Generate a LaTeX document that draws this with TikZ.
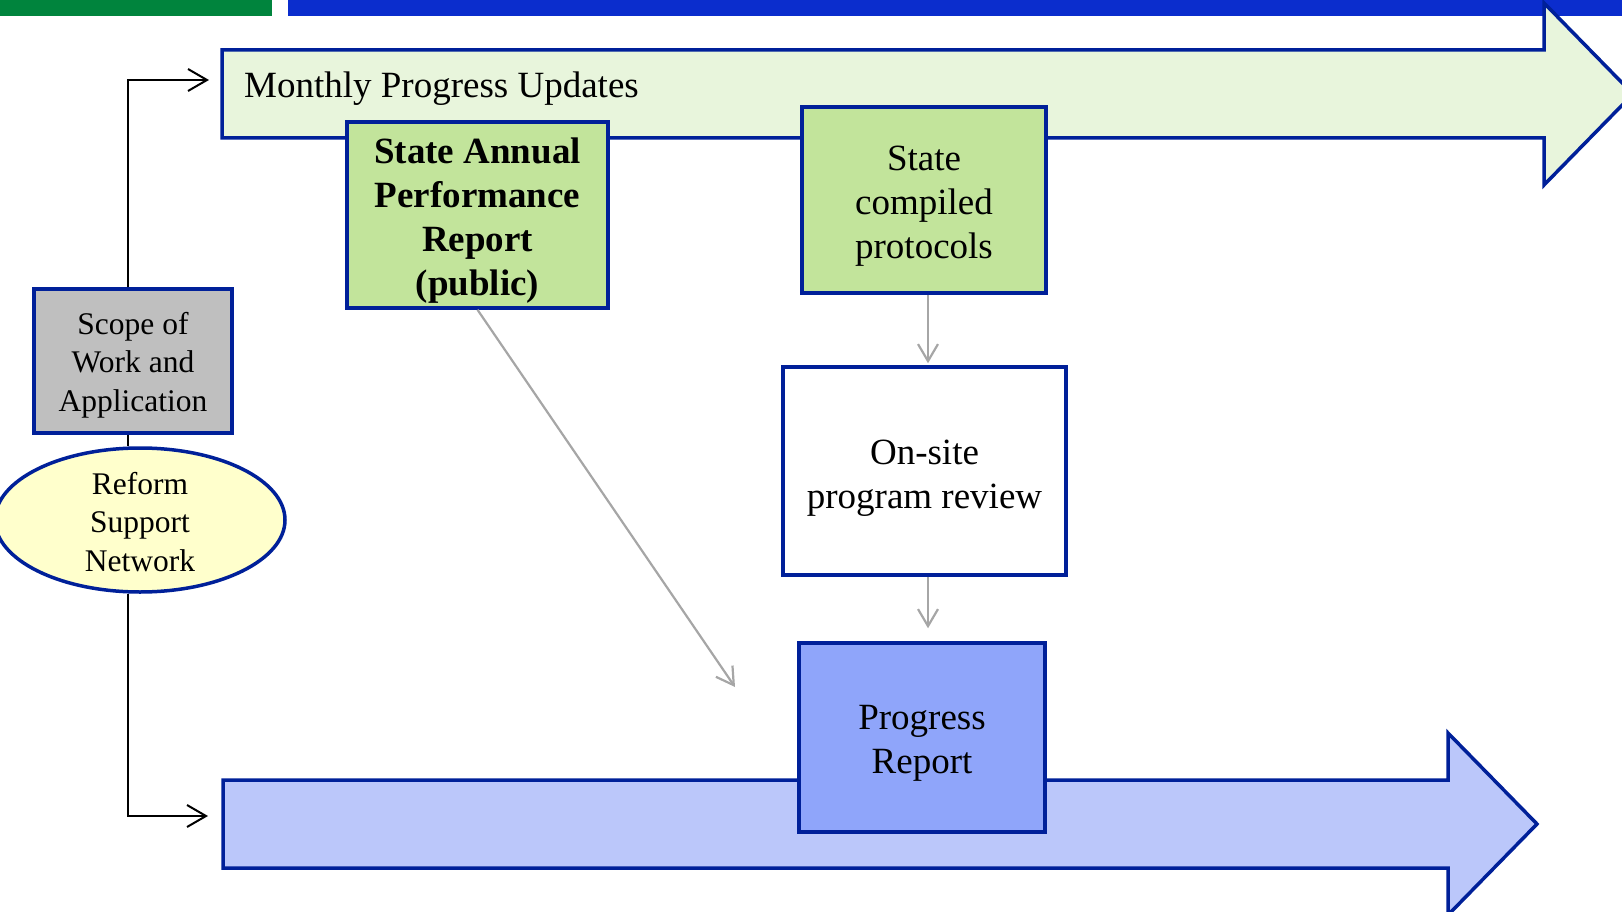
\documentclass[tikz,border=0pt]{standalone}
\usepackage{fontspec}
\setmainfont{Liberation Serif}
\usetikzlibrary{arrows.meta,shapes.geometric}
\definecolor{dblue}{RGB}{0,32,153}
\definecolor{lgreen}{RGB}{232,245,220}
\definecolor{bgreen}{RGB}{194,228,155}
\definecolor{sgray}{RGB}{191,191,191}
\definecolor{lyellow}{RGB}{255,255,204}
\definecolor{pblue}{RGB}{143,165,250}
\definecolor{lblue}{RGB}{187,199,250}
\definecolor{bargreen}{RGB}{0,132,61}
\definecolor{barblue}{RGB}{11,45,205}
\definecolor{cgray}{RGB}{166,166,166}
\tikzset{
  x=1pt,y=-1pt,
  bigarrow/.style={draw=dblue,line width=3.5pt,line join=miter},
  boxbase/.style={draw=dblue,line width=3.5pt,inner sep=0pt},
  greenbox/.style={boxbase,fill=bgreen},
  boxtext/.style={align=center,inner sep=0pt,font=\fontsize{37}{44}\selectfont},
  smalltext/.style={align=center,inner sep=0pt,font=\fontsize{31.5}{38.5}\selectfont},
  blackconn/.style={draw=black,line width=2pt,-{Straight Barb[length=19pt,width=22pt,line width=2pt]}},
  plainconn/.style={draw=black,line width=2pt},
  grayconn/.style={draw=cgray,line width=2.2pt,-{Straight Barb[length=17pt,width=20pt,line width=2.2pt]}},
}
\begin{document}
\begin{tikzpicture}
\useasboundingbox (0,0) rectangle (1622,912);
\clip (0,0) rectangle (1622,912);
% top bars
\fill[bargreen] (0,0) rectangle (272,16);
\fill[barblue] (288,0) rectangle (1622,16);
% big arrows
\draw[bigarrow,fill=lgreen] (222,50) -- (1544,50) -- (1544,3) -- (1633,94) -- (1544,185) -- (1544,138) -- (222,138) -- cycle;
\draw[bigarrow,fill=lblue] (223,780) -- (1448,780) -- (1448,733) -- (1537,824) -- (1448,915) -- (1448,868) -- (223,868) -- cycle;
\node[anchor=base west,font=\fontsize{37}{44}\selectfont,inner sep=0pt] (monthly) at (244,98) {Monthly Progress Updates};
% boxes
\node[greenbox,minimum width=261pt,minimum height=186pt] (sapr) at (477.5,215) {};
\node[boxtext,font=\fontsize{37}{44}\selectfont\bfseries] (saprt) at ([yshift=-6pt]sapr.center) {State Annual\\Performance\\Report\\(public)};
\node[greenbox,minimum width=244pt,minimum height=186pt] (scp) at (924,200) {};
\node[boxtext] (scpt) at ([yshift=-6.5pt]scp.center) {State\\compiled\\protocols};
\node[boxbase,fill=white,minimum width=283pt,minimum height=208pt] (onsite) at (924.5,471) {};
\node[boxtext] (onsitet) at ([yshift=-7pt]onsite.center) {On-site\\program review};
\node[boxbase,fill=pblue,minimum width=246pt,minimum height=189pt] (progress) at (922,737.5) {};
\node[boxtext] (progresst) at ([yshift=-6pt]progress.center) {Progress\\Report};
\node[boxbase,fill=sgray,minimum width=198pt,minimum height=144pt] (scope) at (133,361) {};
\node[smalltext] (scopet) at ([yshift=-4pt]scope.center) {Scope of\\Work and\\Application};
\node[ellipse,draw=dblue,line width=3.5pt,fill=lyellow,inner sep=0pt,minimum width=290pt,minimum height=144pt] (rsn) at (140,520) {};
\node[smalltext] (rsnt) at ([yshift=-2pt]rsn.center) {Reform\\Support\\Network};
% connectors
\coordinate (tl) at (128,80);
\coordinate (bl) at (128,816);
\coordinate (upin) at (209,80);
\coordinate (lowin) at (208,816);
\coordinate (ax) at (928,0);
\coordinate (diagend) at (735,687);
\draw[blackconn] (scope.north -| tl) -- (tl) -- (upin);
\draw[plainconn] (scope.south -| tl) -- (rsn.north -| tl);
\draw[blackconn] (rsn.south -| tl) -- (bl) -- (lowin);
\draw[grayconn,shorten >=2pt] (scp.south -| ax) -- (onsite.north -| ax);
\draw[grayconn,shorten >=13pt] (onsite.south -| ax) -- (progress.north -| ax);
\draw[grayconn] (sapr.south) -- (diagend);
\end{tikzpicture}
\end{document}
